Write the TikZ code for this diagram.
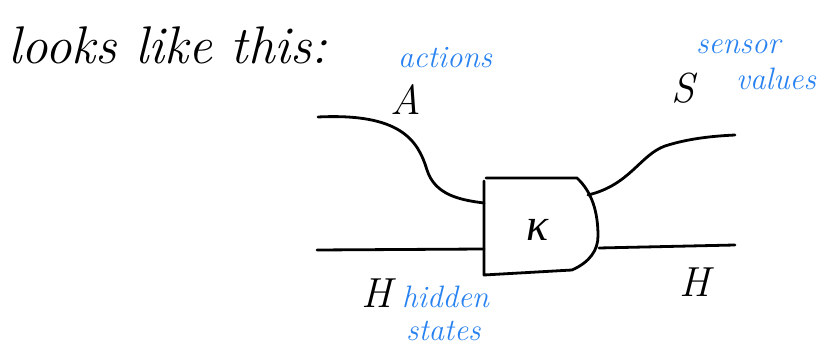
\documentclass[tikz,border=0pt]{standalone}
\usepackage{fontspec}
\newfontfamily\greekfont{Liberation Serif}
\definecolor{hand}{RGB}{40,130,240}
\begin{document}
\begin{tikzpicture}[x=1pt,y=-1pt,
  wire/.style={line width=2.8pt,line cap=round,line join=round},
  note/.style={text=hand,font=\itshape\fontsize{31}{31}\selectfont,inner sep=0pt,anchor=base west},
  lbl/.style={font=\itshape\fontsize{42}{42}\selectfont,inner sep=0pt}]
\useasboundingbox (0,0) rectangle (836,347);

\node[inner sep=0pt,anchor=base west,font=\itshape\fontsize{53}{53}\selectfont] (title) at (8,64) {looks like this:};

% box
\draw[wire] (484,181) -- (484,275) -- (572,270)
  .. controls (590,262) and (598,250) .. (598,236)
  .. controls (598,212) and (592,192) .. (577,178) -- (486,178);
\node[font=\greekfont\itshape\fontsize{46}{46}\selectfont,inner sep=0pt] (k) at (538,230) {κ};

\coordinate (ain) at (484,203);
\coordinate (hin) at (484,249);
\coordinate (sout) at (588,195);
\coordinate (hout) at (599,248);
\coordinate (aend) at (318,117);
\coordinate (hstart) at (317,250);
\coordinate (send) at (735,135);
\coordinate (hend) at (735,245);

\draw[wire] (aend) .. controls (400,113) and (418,140) .. (427,170)
  .. controls (435,195) and (460,200) .. (ain);
\draw[wire] (hstart) -- (hin);
\draw[wire] (sout) .. controls (630,185) and (640,155) .. (665,146)
  .. controls (690,138) and (715,136) .. (send);
\draw[wire] (hout) -- (hend);

\node[lbl] (A) at (406,100) {A};
\node[lbl] (S) at (683,88) {S};
\node[lbl] (H1) at (377,293) {H};
\node[lbl] (H2) at (695,282) {H};

\node[note] (actions) at (398,68) {actions};
\node[note] (sensor) at (696,54) {sensor};
\node[note] (values) at (736,90) {values};
\node[note] (hidden) at (402,308) {hidden};
\node[note] (states) at (406,341) {states};
\end{tikzpicture}
\end{document}
